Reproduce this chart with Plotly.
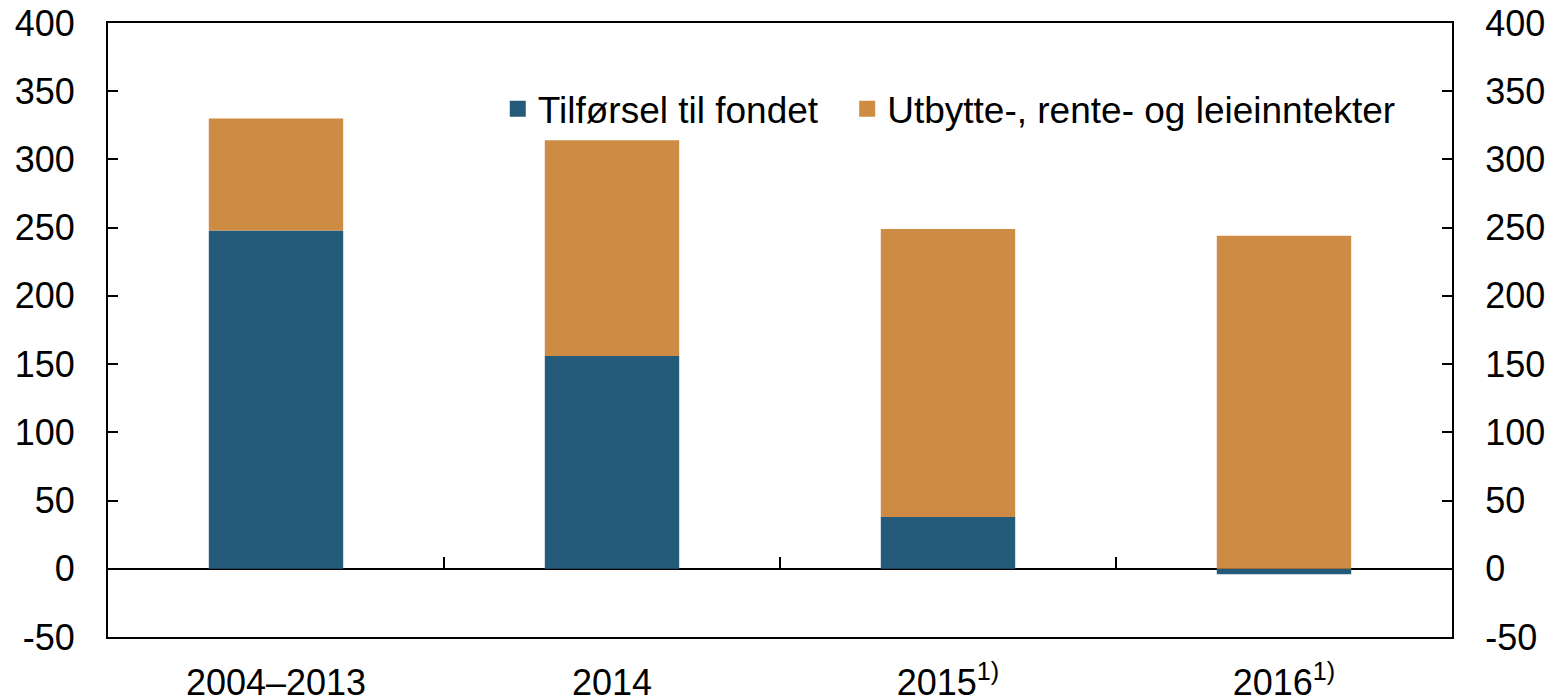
import plotly.graph_objects as go

# Data (mrd. kroner)
kategorier = ['2004–2013', '2014', '2015<sup>1)</sup>', '2016<sup>1)</sup>']
tilforsel = [248, 156, 38, -4]
avkastning = [82, 158, 211, 244]

y_verdier = [-50, 0, 50, 100, 150, 200, 250, 300, 350, 400]
y_tekst = ['-50', '0', '50', '100', '150', '200', '250', '300', '350', '400']

farge_bla = '#245b7a'
farge_oransje = '#cd8b43'
font_navn = 'Liberation Sans, Arial, sans-serif'

fig = go.Figure()

# Stablede søyler
fig.add_trace(go.Bar(
    x=kategorier,
    y=tilforsel,
    name='Tilførsel til fondet',
    marker=dict(color=farge_bla, line=dict(width=0)),
    width=0.4,
    showlegend=False,
))
fig.add_trace(go.Bar(
    x=kategorier,
    y=avkastning,
    name='Utbytte-, rente- og leieinntekter',
    marker=dict(color=farge_oransje, line=dict(width=0)),
    width=0.4,
    showlegend=False,
))

# Egne tegnforklaringer med større firkanter (to separate legender)
for navn, farge, leg in [('Tilførsel til fondet', farge_bla, 'legend'),
                         ('Utbytte-, rente- og leieinntekter', farge_oransje, 'legend2')]:
    fig.add_trace(go.Scatter(
        x=[None], y=[None],
        mode='markers',
        name=navn,
        legend=leg,
        marker=dict(symbol='square', size=19, color=farge),
    ))

# Usynlig trace for høyre akse
fig.add_trace(go.Scatter(x=[None], y=[None], yaxis='y2', showlegend=False))

y_akse = dict(
    range=[-50, 400],
    tickvals=y_verdier,
    ticktext=y_tekst,
    ticks='inside',
    ticklen=10,
    tickwidth=2,
    tickcolor='black',
    showgrid=False,
    showline=True,
    linecolor='black',
    linewidth=2,
    automargin=False,
    ticklabelstandoff=24,
    ticklabeloverflow='allow',
    tickfont=dict(size=36, color='black', family=font_navn),
)

legende_stil = dict(
    orientation='h',
    y=0.91,
    xanchor='left',
    yanchor='top',
    font=dict(size=37, color='black', family=font_navn),
    bgcolor='rgba(0,0,0,0)',
    itemwidth=30,
)

fig.update_layout(
    width=1557,
    height=700,
    barmode='relative',
    plot_bgcolor='white',
    paper_bgcolor='white',
    # siden har 8px body-marg, derfor forskjøvet
    margin=dict(l=100, r=113, t=15, b=71),
    font=dict(family=font_navn, size=36, color='black'),
    xaxis=dict(
        showgrid=False,
        showline=True,
        linecolor='black',
        linewidth=2,
        mirror=True,
        ticks='',
        automargin=False,
        ticklabelstandoff=13,
        ticklabeloverflow='allow',
        tickfont=dict(size=36, color='black', family=font_navn),
    ),
    # Skillestreker mellom kategoriene på nullinjen
    xaxis2=dict(
        matches='x',
        overlaying='x',
        anchor='free',
        position=50 / 450,
        tickson='boundaries',
        ticks='inside',
        ticklen=12,
        tickwidth=2,
        tickcolor='black',
        showticklabels=False,
        showline=False,
        showgrid=False,
        automargin=False,
    ),
    yaxis=dict(
        **y_akse,
        zeroline=True,
        zerolinecolor='black',
        zerolinewidth=2,
    ),
    yaxis2=dict(
        **y_akse,
        overlaying='y',
        side='right',
        zeroline=False,
    ),
    legend=dict(**legende_stil, x=0.290),
    legend2=dict(**legende_stil, x=0.550),
)

# Ekstra trace på xaxis2 slik at aksen tegnes
fig.add_trace(go.Scatter(x=kategorier, y=[None] * len(kategorier), xaxis='x2', showlegend=False))

fig.write_html('out.html')
